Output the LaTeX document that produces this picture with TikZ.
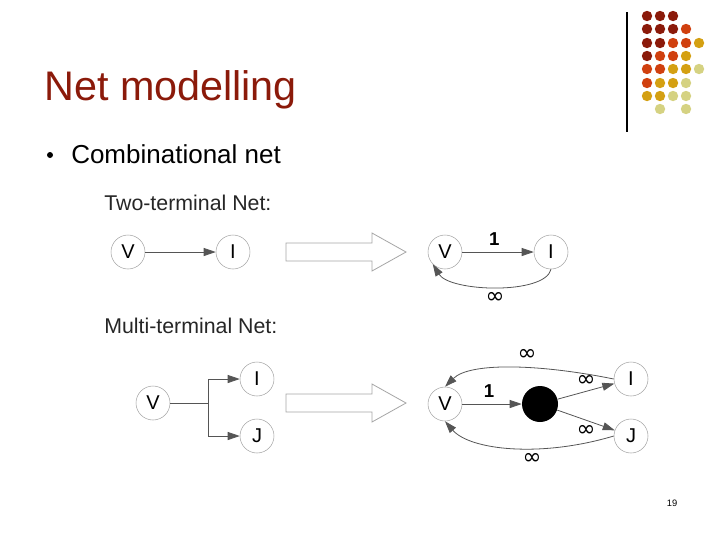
\documentclass[tikz,border=0pt]{standalone}
\usepackage{fontspec}
\setmainfont{Liberation Sans}
\newfontfamily\djvfont{DejaVu Sans}
\usetikzlibrary{arrows.meta}
\definecolor{dred}{HTML}{8B1A0A}
\definecolor{ored}{HTML}{D0400F}
\definecolor{gold}{HTML}{D4A012}
\definecolor{pale}{HTML}{D5D282}
\definecolor{edge}{HTML}{555555}
\begin{document}
\begin{tikzpicture}[x=0.75pt,y=-0.75pt,
  vtx/.style={circle,draw=gray!70,fill=white,minimum size=25.5pt,inner sep=0pt,font=\fontsize{15}{15}\selectfont},
  conn/.style={draw=edge,line width=0.6pt,-{Triangle[length=9pt,width=6pt]}},
  lab/.style={font=\fontsize{14}{14}\selectfont\bfseries},
  inf/.style={font=\djvfont\fontsize{17}{17}\selectfont},
  bigarr/.style={draw=gray!70,fill=white,line width=0.6pt}]
\useasboundingbox (0,0) rectangle (720,540);
% dots
\foreach \c/\x/\y in {dred/647/16,dred/660/16,dred/673/16,
 dred/647/29,dred/660/29,dred/673/29,ored/686/29,
 dred/647/43,dred/660/43,ored/673/43,ored/686/43,gold/699/43,
 dred/647/56,ored/660/56,ored/673/56,gold/686/56,
 ored/647/69,ored/660/69,gold/673/69,gold/686/69,pale/699/69,
 ored/647/83,gold/660/83,gold/673/83,pale/686/83,
 gold/647/96,gold/660/96,pale/673/96,pale/686/96,
 pale/660/109,pale/686/109}
 \fill[\c] (\x,\y) circle (5.2);
\draw[line width=0.8pt] (627,12) -- (627,132);
\node[anchor=base west,text=dred,font=\fontsize{31}{31}\selectfont,inner sep=0] (title) at (44,100) {Net modelling};
\fill (50,155) circle (3);
\node[anchor=base west,font=\fontsize{19.5}{19.5}\selectfont,inner sep=0] (b1) at (71,163) {Combinational net};
\node[anchor=base west,font=\fontsize{16}{16}\selectfont,inner sep=0,text=black!85] (t1) at (104,210) {Two-terminal Net:};
\node[anchor=base west,font=\fontsize{16}{16}\selectfont,inner sep=0,text=black!85] (t2) at (104,333) {Multi-terminal Net:};
% big arrows
\foreach \yy in {252,403}
 \draw[bigarr] (286,\yy-9) -- (372,\yy-9) -- (372,\yy-19) -- (406,\yy) -- (372,\yy+19) -- (372,\yy+9) -- (286,\yy+9) -- cycle;
% two-terminal
\node[vtx] (v1) at (128,252) {V};
\node[vtx] (i1) at (233,252) {I};
\draw[conn] (v1) -- (i1);
\node[vtx] (v2) at (445,252) {V};
\node[vtx] (i2) at (551,252) {I};
\draw[conn] (v2) -- node[lab,above=1pt,pos=0.45]{1} (i2);
\draw[conn] (i2.south) .. controls (545,295) and (450,292) .. (v2.south west);
\node[inf] (n1) at (495,298) {∞};
% multi-terminal
\node[vtx] (v3) at (153,403) {V};
\node[vtx] (i3) at (257,379) {I};
\node[vtx] (j3) at (257,436) {J};
\coordinate (s) at (208,403);
\coordinate (s1) at (208,379);
\coordinate (s2) at (208,436);
\draw[draw=edge,line width=0.6pt] (v3) -- (s) (s1) -- (s2);
\draw[conn] (s1) -- (i3);
\draw[conn] (s2) -- (j3);
\node[vtx] (v4) at (445,404) {V};
\node[circle,fill=black,minimum size=27pt,inner sep=0] (d) at (540,404) {};
\node[vtx] (i4) at (631,379) {I};
\node[vtx] (j4) at (631,436) {J};
\draw[conn] (v4) -- node[lab,above=1pt,pos=0.45]{1} (d);
\draw[conn] (d) -- node[inf,above=0pt]{∞} (i4);
\draw[conn] (d) -- node[inf,below=0pt]{∞} (j4);
\draw[conn] (i4.west) .. controls (540,364) and (470,362) .. (v4.north);
\draw[conn] (j4.west) .. controls (540,458) and (470,450) .. (v4.south);
\node[inf] (n2) at (527,355) {∞};
\node[inf] (n3) at (532,459) {∞};
\node[font=\fontsize{7}{7}\selectfont] (pg) at (672,503) {19};
\end{tikzpicture}
\end{document}
